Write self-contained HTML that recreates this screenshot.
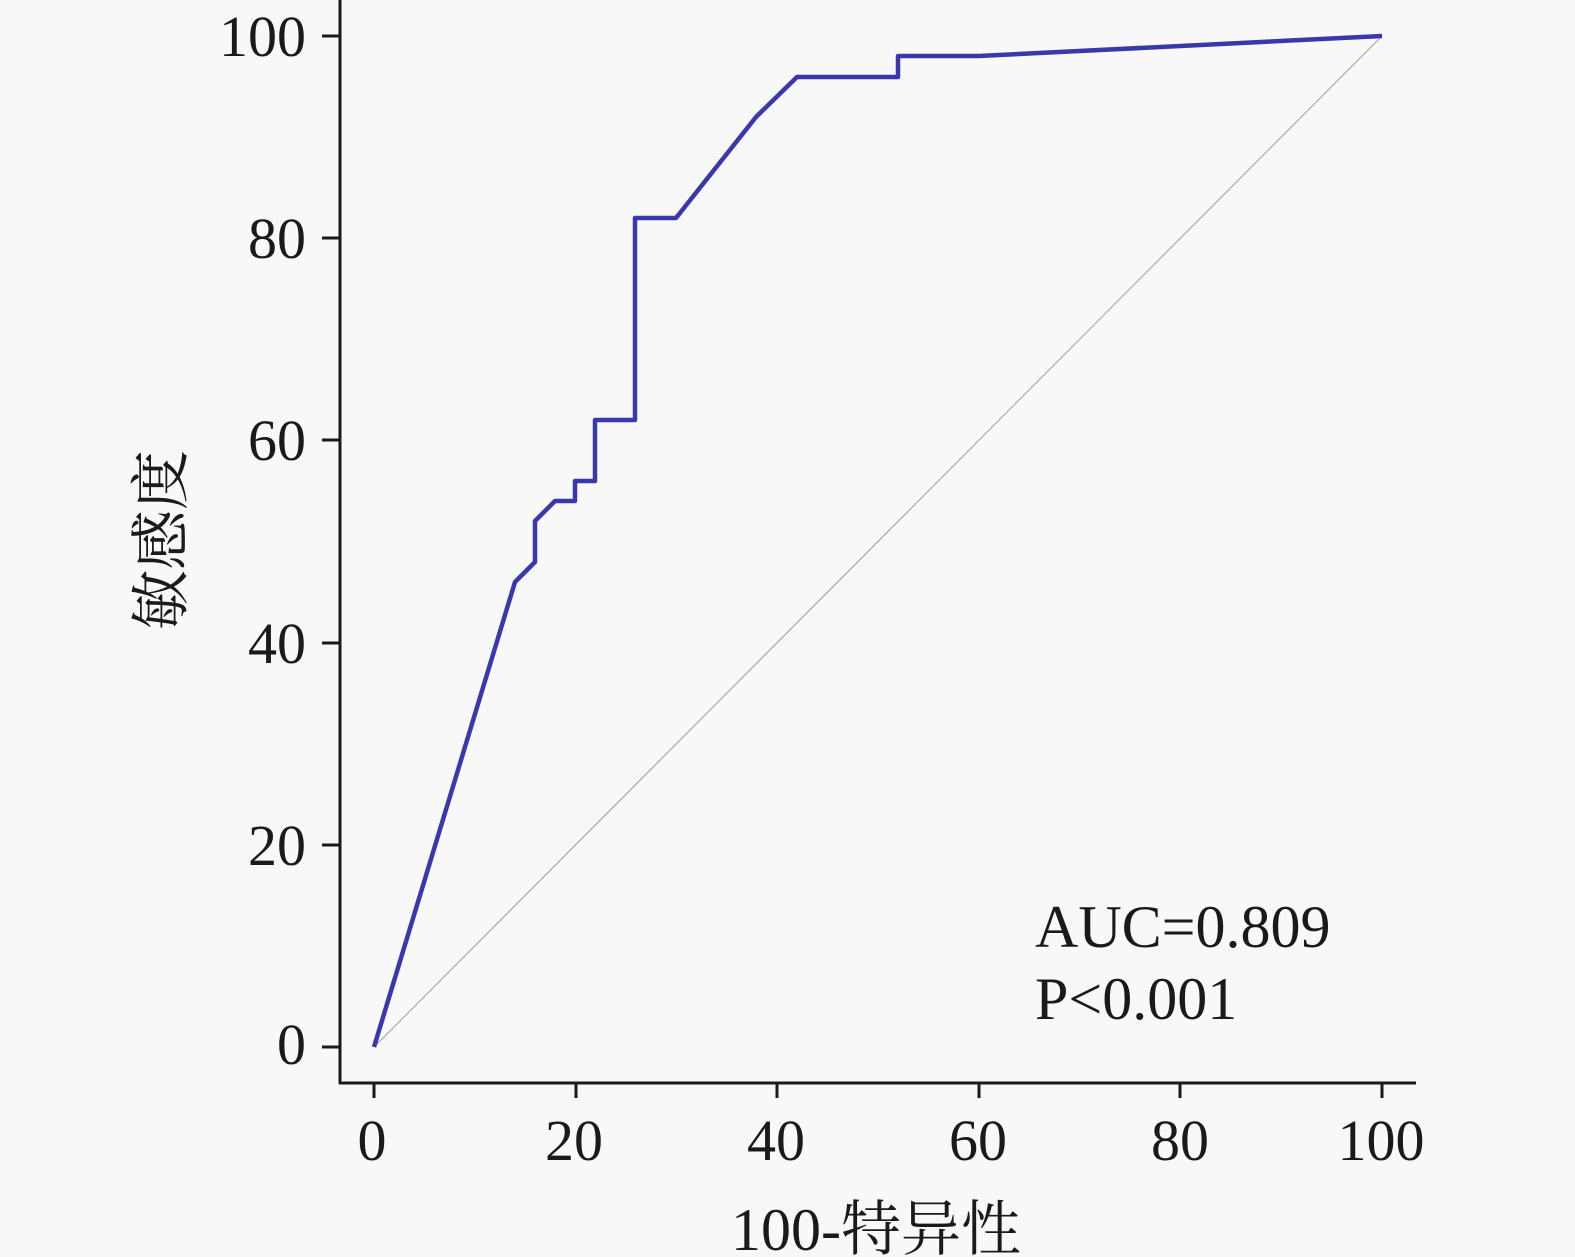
<!DOCTYPE html>
<html><head><meta charset="utf-8"><style>html,body{margin:0;padding:0;background:#f8f8f8;}</style></head>
<body>
<svg width="1575" height="1257" viewBox="0 0 1575 1257" xmlns="http://www.w3.org/2000/svg" style="display:block">
<rect width="1575" height="1257" fill="#f8f8f8"/>
<g stroke="#1a1a1a" stroke-width="3" fill="none">
<line x1="340" y1="0" x2="340" y2="1084"/>
<line x1="339" y1="1083" x2="1416" y2="1083"/>
<line x1="322" y1="36" x2="340" y2="36"/>
<line x1="322" y1="238" x2="340" y2="238"/>
<line x1="322" y1="440" x2="340" y2="440"/>
<line x1="322" y1="643" x2="340" y2="643"/>
<line x1="322" y1="845" x2="340" y2="845"/>
<line x1="322" y1="1047" x2="340" y2="1047"/>
<line x1="374" y1="1083" x2="374" y2="1098"/>
<line x1="576" y1="1083" x2="576" y2="1098"/>
<line x1="777" y1="1083" x2="777" y2="1098"/>
<line x1="979" y1="1083" x2="979" y2="1098"/>
<line x1="1180" y1="1083" x2="1180" y2="1098"/>
<line x1="1382" y1="1083" x2="1382" y2="1098"/>
</g>
<line x1="374" y1="1047" x2="1382" y2="36" stroke="#aaa" stroke-width="1.2"/>
<polyline fill="none" stroke="#3a38ad" stroke-width="4.5" stroke-linejoin="round"
points="374,1047 515,582 535,562 535,521 555,501 575,501 575,481 595,481 595,420 635,420 635,218 676,218 756,117 797,77 898,77 898,56 979,56 1382,36"/>
<g font-family="Liberation Serif, serif" font-size="58" fill="#1a1a1a" text-anchor="end">
<text x="306" y="56">100</text>
<text x="306" y="258">80</text>
<text x="306" y="460">60</text>
<text x="306" y="663">40</text>
<text x="306" y="865">20</text>
<text x="306" y="1064">0</text>
</g>
<g font-family="Liberation Serif, serif" font-size="58" fill="#1a1a1a" text-anchor="middle">
<text x="372" y="1160">0</text>
<text x="574" y="1160">20</text>
<text x="776" y="1160">40</text>
<text x="978" y="1160">60</text>
<text x="1180" y="1160">80</text>
<text x="1381" y="1160">100</text>
<text x="876" y="1250" font-size="60" font-family="Liberation Serif, 'Noto Serif CJK SC', serif">100-特异性</text>
</g>
<text transform="translate(182,540) rotate(-90)" text-anchor="middle" font-family="Liberation Serif, 'Noto Serif CJK SC', serif" font-size="60" fill="#1a1a1a">敏感度</text>
<g font-family="Liberation Serif, serif" font-size="60" fill="#1a1a1a">
<text x="1035" y="947">AUC=0.809</text>
<text x="1035" y="1019">P&lt;0.001</text>
</g>
</svg>
</body></html>
